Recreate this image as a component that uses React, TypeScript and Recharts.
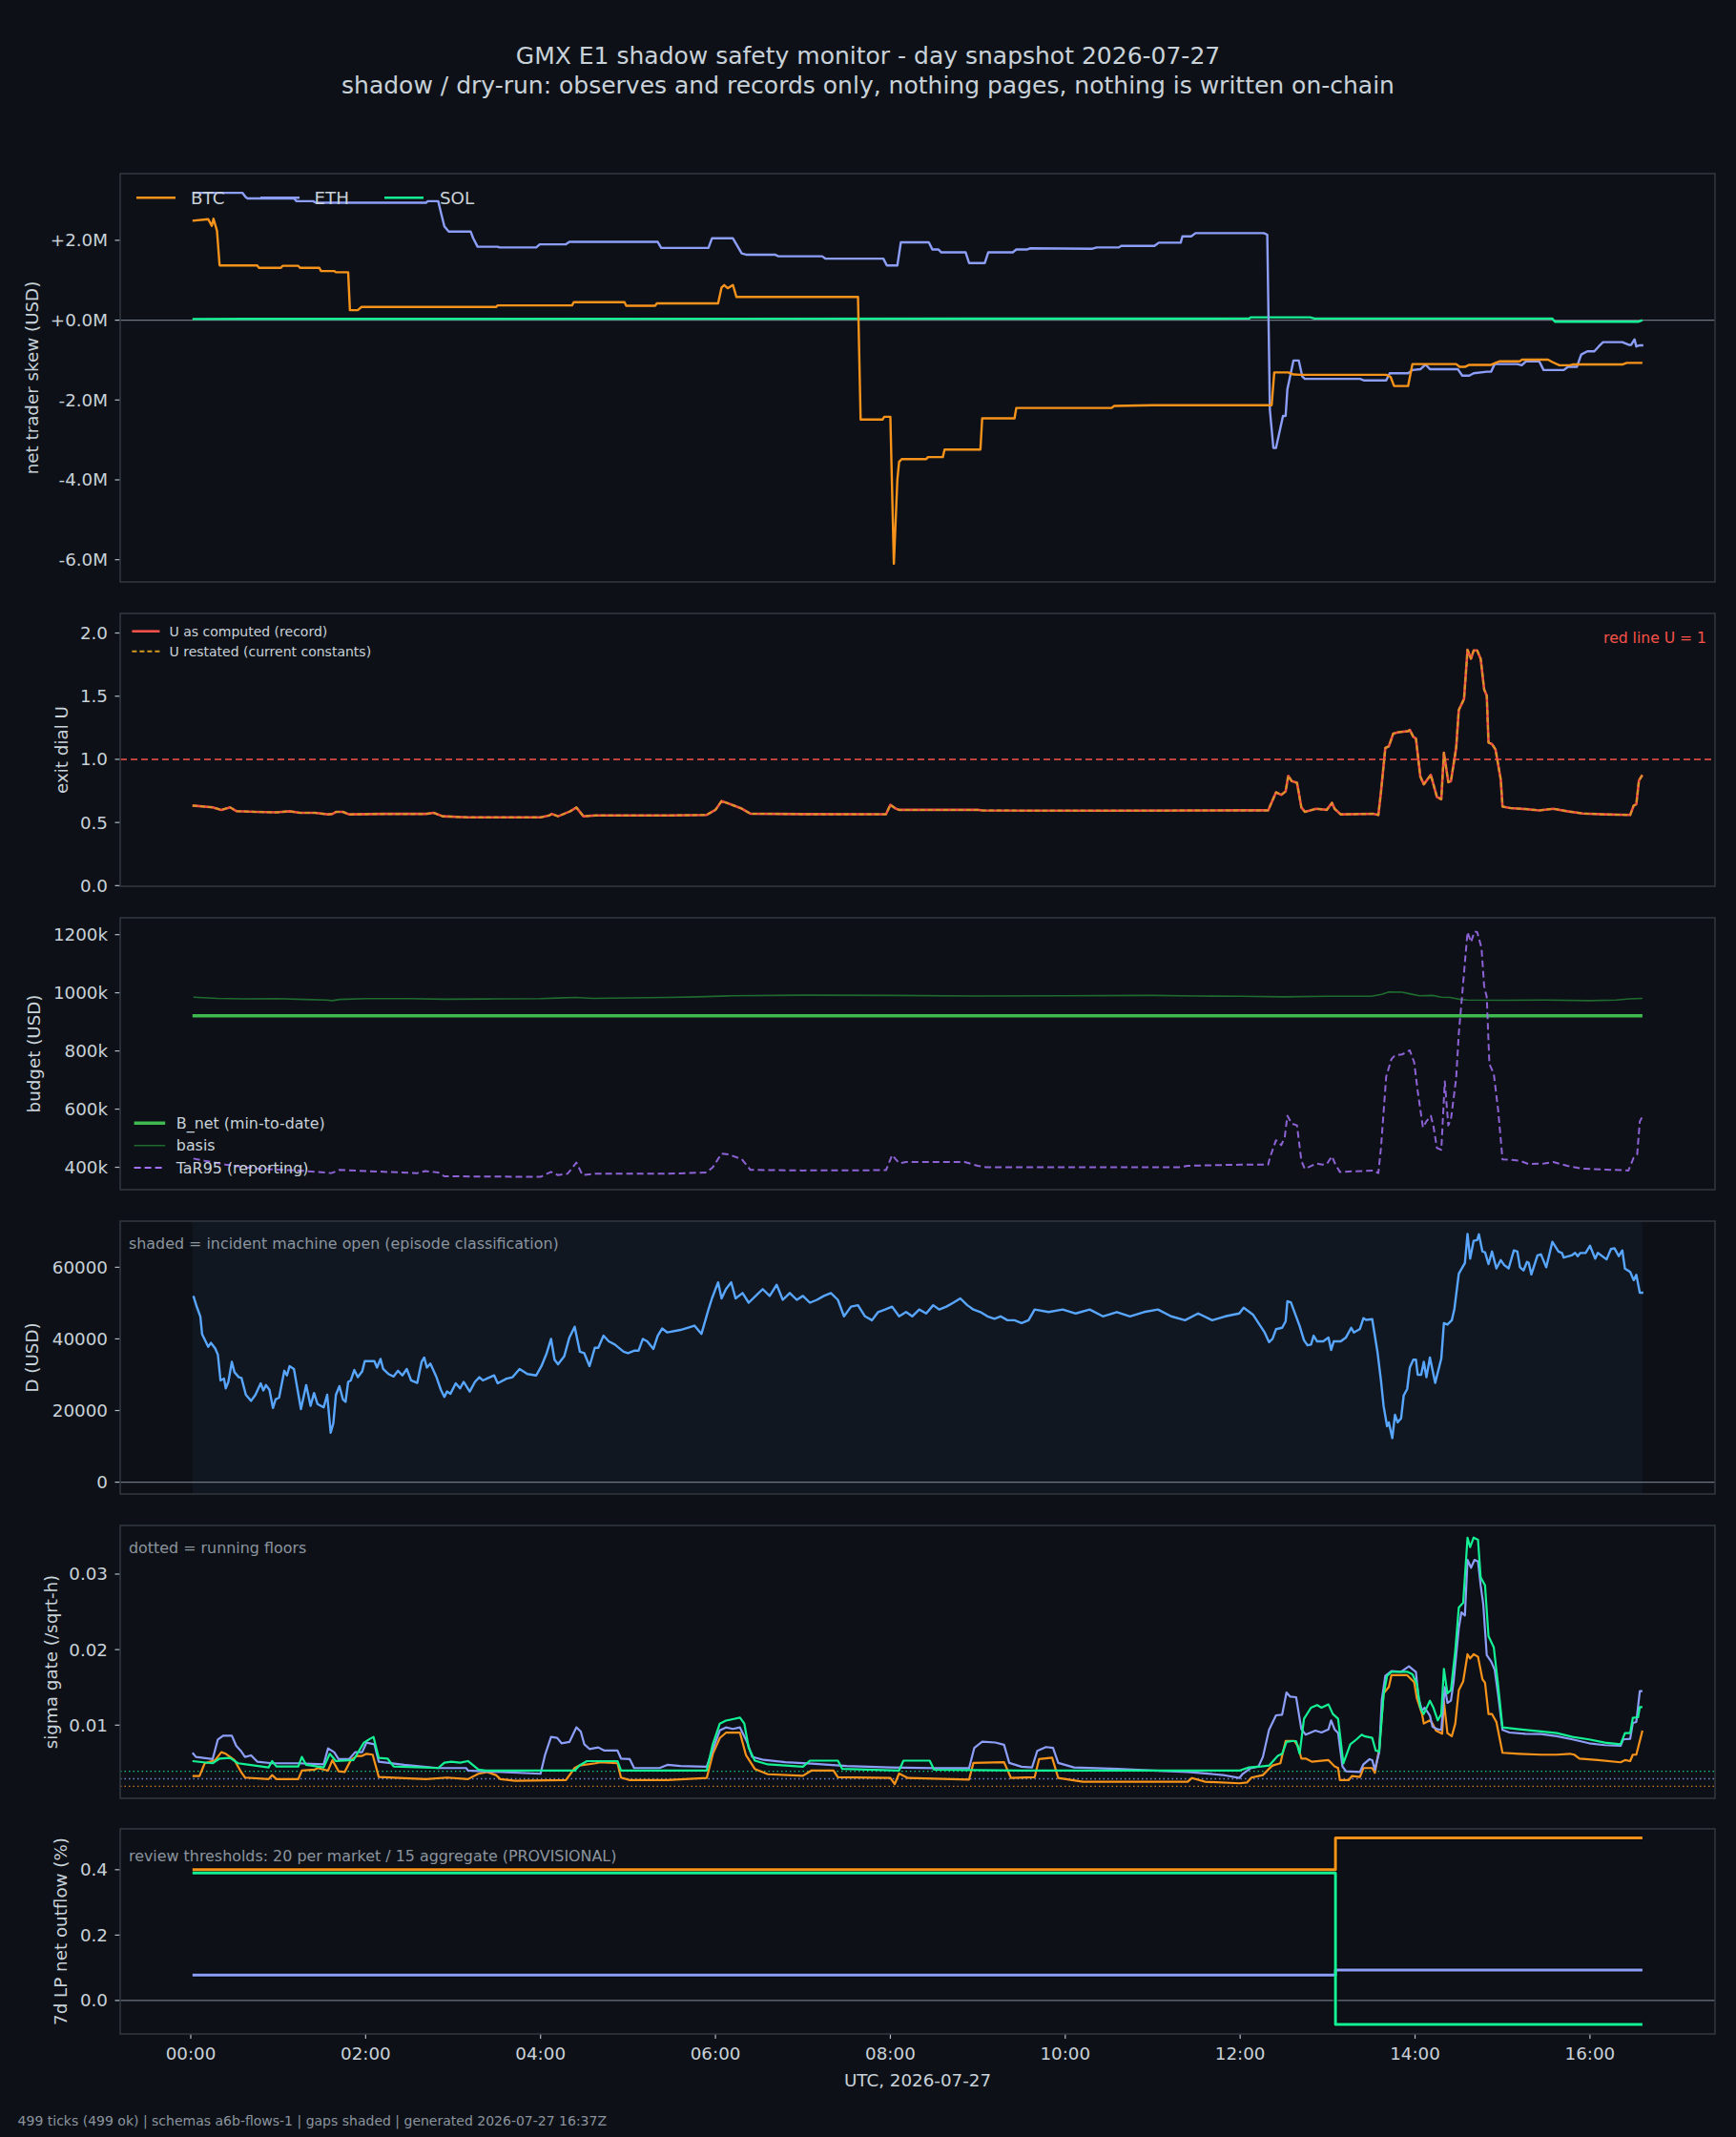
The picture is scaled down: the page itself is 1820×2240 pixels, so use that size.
import React from 'react';
import { ComposedChart, Line, XAxis, YAxis, ReferenceLine, ReferenceArea } from 'recharts';

type Pt = [number, number];

// ---------- time axis (hours, UTC) ----------
const hourTicks = [0, 2, 4, 6, 8, 10, 12, 14, 16];

// ---------- panel 1: net trader skew (USD millions) ----------
const skewTicks = [-6, -4, -2, 0, 2];
const skewBtc: Pt[] = [
  [0.02, 2.49], [0.2, 2.53], [0.24, 2.36], [0.26, 2.54], [0.3, 2.24], [0.33, 1.37], [0.76, 1.37], [0.78, 1.31],
  [1.03, 1.31], [1.05, 1.36], [1.23, 1.36], [1.25, 1.31], [1.47, 1.31], [1.49, 1.23], [1.64, 1.23], [1.66, 1.2],
  [1.8, 1.2], [1.82, 0.25], [1.91, 0.25], [1.95, 0.33], [3.49, 0.33], [3.51, 0.37], [4.36, 0.37], [4.38, 0.45],
  [4.96, 0.45], [4.98, 0.36], [5.31, 0.36], [5.33, 0.42], [6.03, 0.42], [6.07, 0.82], [6.1, 0.88], [6.14, 0.8],
  [6.2, 0.88], [6.24, 0.58], [7.63, 0.58], [7.66, -2.49], [7.91, -2.49], [7.93, -2.42], [8.0, -2.42], [8.04, -6.1],
  [8.08, -4.0], [8.1, -3.55], [8.13, -3.48], [8.41, -3.48], [8.43, -3.43], [8.6, -3.43], [8.62, -3.24], [9.03, -3.24],
  [9.05, -2.46], [9.42, -2.46], [9.44, -2.2], [10.53, -2.2], [10.56, -2.15], [11.0, -2.13], [12.36, -2.13],
  [12.39, -1.31], [12.55, -1.31], [12.61, -1.36], [12.7, -1.37], [13.67, -1.37], [13.72, -1.42], [13.76, -1.65],
  [13.92, -1.65], [13.97, -1.1], [14.47, -1.1], [14.51, -1.17], [14.57, -1.17], [14.62, -1.12], [14.87, -1.12],
  [14.92, -1.07], [14.97, -1.03], [15.2, -1.03], [15.22, -0.99], [15.52, -0.99], [15.57, -1.05], [15.65, -1.13],
  [15.77, -1.13], [15.8, -1.11], [16.37, -1.11], [16.42, -1.07], [16.6, -1.07],
];
const skewEth: Pt[] = [
  [0.02, 3.19], [0.59, 3.19], [0.63, 3.08], [0.65, 3.05], [1.18, 3.05], [1.21, 2.98], [1.4, 2.98], [1.43, 2.94],
  [2.69, 2.94], [2.71, 2.98], [2.83, 2.98], [2.86, 2.7], [2.9, 2.35], [2.95, 2.22], [3.2, 2.22], [3.23, 2.05],
  [3.28, 1.84], [3.51, 1.84], [3.53, 1.82], [3.95, 1.82], [3.99, 1.9], [4.29, 1.9], [4.33, 1.96], [5.34, 1.96],
  [5.38, 1.81], [5.92, 1.81], [5.96, 2.05], [6.2, 2.05], [6.3, 1.67], [6.35, 1.64], [6.68, 1.64], [6.72, 1.6],
  [7.22, 1.6], [7.26, 1.54], [7.92, 1.54], [7.96, 1.37], [8.08, 1.37], [8.12, 1.95], [8.44, 1.95], [8.48, 1.77],
  [8.55, 1.77], [8.58, 1.7], [8.86, 1.7], [8.9, 1.43], [9.08, 1.43], [9.12, 1.7], [9.4, 1.7], [9.44, 1.77],
  [9.56, 1.77], [9.6, 1.8], [10.31, 1.79], [10.36, 1.82], [10.61, 1.82], [10.64, 1.86], [11.02, 1.86],
  [11.07, 1.94], [11.32, 1.94], [11.34, 2.1], [11.44, 2.1], [11.49, 2.18], [12.27, 2.18], [12.31, 2.14],
  [12.34, -2.25], [12.38, -3.2], [12.41, -3.2], [12.49, -2.4], [12.52, -2.4], [12.54, -1.73], [12.61, -1.01],
  [12.67, -1.01], [12.71, -1.41], [12.74, -1.47], [13.37, -1.47], [13.42, -1.51], [13.67, -1.51], [13.71, -1.33],
  [13.92, -1.33], [13.97, -1.25], [14.06, -1.23], [14.12, -1.11], [14.17, -1.23], [14.49, -1.23], [14.54, -1.39],
  [14.62, -1.39], [14.67, -1.33], [14.82, -1.29], [14.87, -1.29], [14.91, -1.1], [15.17, -1.1], [15.22, -1.13],
  [15.27, -1.03], [15.42, -1.03], [15.47, -1.25], [15.7, -1.25], [15.75, -1.17], [15.85, -1.17], [15.9, -0.86],
  [15.97, -0.78], [16.05, -0.78], [16.1, -0.66], [16.15, -0.55], [16.37, -0.55], [16.45, -0.62], [16.47, -0.62],
  [16.51, -0.48], [16.53, -0.66], [16.57, -0.63], [16.61, -0.63],
];
const skewSol: Pt[] = [
  [0.02, 0.03], [12.1, 0.04], [12.12, 0.07], [12.8, 0.07], [12.85, 0.04], [15.57, 0.04], [15.6, -0.04],
  [16.55, -0.04], [16.6, 0.0],
];

// ---------- panel 2: exit dial U ----------
const dialTicks = [0, 0.5, 1, 1.5, 2];
const dialRedLine = 1;
const dialU: Pt[] = [
  [0.02, 0.634], [0.25, 0.62], [0.35, 0.6], [0.45, 0.62], [0.52, 0.59], [0.74, 0.584], [0.98, 0.58], [1.13, 0.589],
  [1.25, 0.576], [1.42, 0.576], [1.57, 0.564], [1.62, 0.568], [1.66, 0.584], [1.74, 0.584], [1.81, 0.564],
  [2.2, 0.568], [2.69, 0.568], [2.78, 0.576], [2.88, 0.549], [3.17, 0.541], [4.0, 0.541], [4.1, 0.556],
  [4.13, 0.568], [4.2, 0.549], [4.34, 0.589], [4.41, 0.619], [4.49, 0.549], [4.63, 0.556], [5.45, 0.556],
  [5.9, 0.56], [6.0, 0.6], [6.07, 0.67], [6.15, 0.65], [6.3, 0.61], [6.4, 0.57], [7.0, 0.566], [7.95, 0.565],
  [8.0, 0.64], [8.06, 0.61], [8.1, 0.6], [9.0, 0.6], [9.05, 0.595], [10.5, 0.593], [12.0, 0.596], [12.32, 0.596],
  [12.41, 0.739], [12.47, 0.719], [12.52, 0.747], [12.55, 0.869], [12.59, 0.827], [12.65, 0.814], [12.7, 0.619],
  [12.74, 0.584], [12.87, 0.609], [12.99, 0.6], [13.05, 0.656], [13.08, 0.609], [13.15, 0.564], [13.52, 0.569],
  [13.58, 0.559], [13.61, 0.739], [13.66, 1.09], [13.7, 1.103], [13.75, 1.203], [13.81, 1.215], [13.92, 1.223],
  [13.94, 1.233], [13.98, 1.178], [14.01, 1.165], [14.06, 0.864], [14.1, 0.802], [14.18, 0.877], [14.21, 0.802],
  [14.25, 0.702], [14.3, 0.684], [14.33, 1.052], [14.38, 0.819], [14.41, 0.827], [14.47, 1.09], [14.5, 1.39],
  [14.56, 1.478], [14.6, 1.867], [14.64, 1.797], [14.67, 1.862], [14.71, 1.862], [14.75, 1.797], [14.79, 1.554],
  [14.82, 1.504], [14.84, 1.133], [14.88, 1.12], [14.92, 1.078], [14.98, 0.84], [15.0, 0.626], [15.09, 0.614],
  [15.27, 0.606], [15.42, 0.596], [15.58, 0.609], [15.74, 0.589], [15.92, 0.571], [16.17, 0.564], [16.46, 0.559],
  [16.5, 0.634], [16.53, 0.644], [16.56, 0.832], [16.6, 0.877],
];

// ---------- panel 3: budget (thousand USD) ----------
const budgetTicks = [400, 600, 800, 1000, 1200];
const budgetNet: Pt[] = [[0.02, 921], [16.6, 921]];
const budgetBasis: Pt[] = [
  [0.03, 985], [0.3, 981], [0.6, 979], [1.0, 980], [1.3, 977], [1.55, 975], [1.62, 973], [1.7, 977], [2.0, 980],
  [2.5, 980], [2.9, 978], [3.5, 979], [4.0, 980], [4.2, 982], [4.4, 984], [4.6, 981], [5.45, 984], [5.8, 986],
  [6.2, 990], [7.0, 992], [8.0, 991], [9.0, 989], [10.0, 990], [11.0, 991], [11.5, 989], [12.0, 988], [12.5, 986],
  [13.0, 988], [13.5, 988], [13.62, 995], [13.7, 1003], [13.85, 1002], [13.95, 996], [14.05, 990], [14.2, 991],
  [14.3, 985], [14.4, 984], [14.52, 977], [14.6, 975], [15.0, 974], [15.5, 975], [16.0, 973], [16.3, 975],
  [16.45, 979], [16.6, 981],
];
const budgetTar95: Pt[] = [
  [0.03, 430], [0.16, 422], [0.4, 409], [0.74, 395], [1.23, 389], [1.61, 380], [1.7, 391], [2.0, 387], [2.59, 380],
  [2.68, 387], [2.83, 382], [2.9, 369], [4.0, 367], [4.12, 384], [4.2, 373], [4.31, 378], [4.41, 416], [4.48, 373],
  [4.63, 378], [5.45, 378], [5.9, 382], [5.97, 400], [6.07, 447], [6.15, 444], [6.3, 428], [6.4, 391], [7.0, 389],
  [7.95, 390], [8.02, 442], [8.1, 414], [8.18, 418], [8.85, 418], [9.0, 405], [9.1, 400], [11.3, 400], [11.4, 405],
  [12.0, 409], [12.32, 409], [12.34, 433], [12.41, 493], [12.47, 476], [12.51, 504], [12.54, 577], [12.59, 550],
  [12.65, 544], [12.7, 422], [12.74, 394], [12.87, 413], [12.94, 409], [12.99, 411], [13.05, 438], [13.08, 416],
  [13.14, 384], [13.52, 389], [13.58, 380], [13.61, 466], [13.67, 712], [13.73, 772], [13.77, 785], [13.85, 788],
  [13.94, 802], [13.99, 761], [14.03, 662], [14.09, 537], [14.13, 558], [14.18, 577], [14.21, 542], [14.25, 466],
  [14.3, 460], [14.34, 695], [14.38, 544], [14.41, 564], [14.47, 706], [14.5, 859], [14.53, 963], [14.6, 1209],
  [14.64, 1174], [14.68, 1211], [14.71, 1209], [14.76, 1154], [14.79, 1023], [14.82, 985], [14.85, 755],
  [14.9, 722], [14.95, 597], [15.0, 427], [15.09, 426], [15.2, 422], [15.3, 411], [15.48, 413], [15.58, 418],
  [15.74, 405], [15.92, 395], [16.17, 392], [16.44, 389], [16.5, 433], [16.54, 444], [16.57, 558], [16.61, 580],
];

// ---------- panel 4: D (USD) ----------
const dTicks = [0, 20000, 40000, 60000];
const incidentStart = 0.02;
const incidentEnd = 16.6;
const dUsd: Pt[] = [
  [0.03, 52000], [0.07, 48900], [0.11, 46200], [0.13, 41300], [0.2, 37800], [0.23, 38900], [0.28, 37300],
  [0.31, 35600], [0.34, 28400], [0.38, 28900], [0.4, 26200], [0.43, 28000], [0.47, 33600], [0.5, 30700],
  [0.55, 29300], [0.58, 29100], [0.63, 24400], [0.69, 22700], [0.74, 24400], [0.8, 27600], [0.83, 25600],
  [0.86, 27100], [0.9, 25800], [0.94, 20700], [0.97, 23100], [1.01, 23600], [1.07, 31100], [1.1, 29800],
  [1.13, 32400], [1.18, 31600], [1.26, 20400], [1.32, 27100], [1.37, 21300], [1.41, 24900], [1.45, 21800],
  [1.52, 20900], [1.56, 24400], [1.6, 13800], [1.63, 16400], [1.66, 24400], [1.7, 26800], [1.74, 23100],
  [1.77, 22400], [1.8, 28000], [1.83, 28400], [1.87, 31300], [1.91, 29300], [1.96, 30900], [1.99, 33800],
  [2.1, 33800], [2.13, 32000], [2.17, 34400], [2.2, 31600], [2.26, 30200], [2.32, 29500], [2.37, 31100],
  [2.42, 29800], [2.47, 31600], [2.52, 28400], [2.59, 27700], [2.64, 33600], [2.67, 34800], [2.7, 32000],
  [2.74, 33100], [2.81, 29300], [2.86, 25800], [2.9, 23800], [2.93, 25300], [2.97, 24700], [3.03, 27600],
  [3.08, 26200], [3.12, 28000], [3.19, 25300], [3.25, 28000], [3.3, 29300], [3.34, 28400], [3.47, 29800],
  [3.51, 27600], [3.61, 28900], [3.68, 29300], [3.76, 31600], [3.85, 30200], [3.95, 29800], [4.01, 32400],
  [4.07, 36000], [4.12, 40000], [4.16, 34200], [4.2, 32900], [4.27, 35100], [4.33, 40400], [4.39, 43400],
  [4.45, 36400], [4.5, 36000], [4.56, 32400], [4.62, 37500], [4.66, 37500], [4.72, 40900], [4.78, 39300],
  [4.85, 38400], [4.95, 36400], [5.0, 36000], [5.07, 36700], [5.12, 36700], [5.17, 40000], [5.22, 39300],
  [5.29, 37200], [5.34, 40900], [5.39, 42900], [5.45, 41800], [5.6, 42500], [5.76, 43700], [5.84, 41400],
  [5.92, 48200], [5.96, 51300], [6.03, 55800], [6.07, 51300], [6.12, 53900], [6.18, 55800], [6.23, 51300],
  [6.31, 52800], [6.38, 50100], [6.46, 52000], [6.54, 53900], [6.62, 52000], [6.7, 55100], [6.77, 50900],
  [6.85, 52800], [6.93, 50900], [7.0, 52000], [7.08, 50100], [7.16, 50900], [7.24, 52000], [7.32, 52800],
  [7.4, 50900], [7.47, 46300], [7.55, 49000], [7.63, 49400], [7.71, 46300], [7.79, 45200], [7.86, 47500],
  [7.94, 48200], [8.02, 49000], [8.1, 46300], [8.18, 47500], [8.25, 46300], [8.33, 48200], [8.41, 47100],
  [8.49, 49400], [8.56, 48200], [8.64, 49000], [8.72, 50100], [8.8, 51300], [8.88, 49400], [8.95, 48200],
  [9.03, 47500], [9.11, 46300], [9.19, 45600], [9.26, 46300], [9.34, 45200], [9.42, 45200], [9.5, 44400],
  [9.58, 45200], [9.65, 48200], [9.81, 47500], [9.97, 48200], [10.12, 47100], [10.28, 48200], [10.43, 46300],
  [10.59, 47500], [10.74, 46300], [10.9, 47500], [11.06, 48200], [11.21, 46300], [11.37, 45200], [11.52, 47100],
  [11.68, 45200], [11.83, 46300], [11.99, 47100], [12.04, 48700], [12.15, 46700], [12.21, 44400], [12.28, 41800],
  [12.33, 39100], [12.37, 40000], [12.41, 42700], [12.48, 43100], [12.52, 44900], [12.54, 50500], [12.58, 50200],
  [12.68, 43600], [12.73, 39600], [12.77, 38200], [12.81, 38400], [12.84, 40900], [12.88, 39300], [12.95, 39300],
  [13.01, 40400], [13.04, 36900], [13.07, 39300], [13.15, 39300], [13.21, 40400], [13.27, 43100], [13.3, 41800],
  [13.37, 42800], [13.41, 45800], [13.44, 45300], [13.51, 45500], [13.57, 36400], [13.61, 28400], [13.64, 21300],
  [13.68, 15600], [13.7, 16700], [13.74, 12300], [13.77, 18800], [13.8, 16700], [13.84, 17800], [13.87, 24200],
  [13.91, 26000], [13.94, 32000], [13.98, 34200], [14.01, 34200], [14.03, 30000], [14.07, 30000], [14.1, 33600],
  [14.13, 29300], [14.17, 34800], [14.23, 27700], [14.3, 34500], [14.33, 44400], [14.37, 44000], [14.42, 45200],
  [14.45, 48400], [14.5, 58200], [14.57, 61200], [14.6, 69300], [14.63, 62400], [14.67, 67400], [14.71, 67600],
  [14.73, 69200], [14.77, 64400], [14.8, 64200], [14.84, 60900], [14.88, 64400], [14.93, 59700], [14.98, 62000],
  [15.02, 60600], [15.07, 59700], [15.13, 64700], [15.17, 64400], [15.2, 60000], [15.24, 59100], [15.28, 61500],
  [15.3, 61200], [15.33, 58000], [15.4, 63300], [15.44, 63600], [15.5, 60000], [15.57, 67100], [15.64, 64400],
  [15.68, 64000], [15.7, 62700], [15.79, 63300], [15.83, 64000], [15.86, 63100], [15.89, 64000], [15.95, 64000],
  [16.0, 66000], [16.06, 62400], [16.09, 64000], [16.19, 62200], [16.24, 65100], [16.28, 65300], [16.33, 63100],
  [16.37, 64700], [16.4, 59600], [16.46, 58700], [16.5, 56400], [16.53, 57900], [16.57, 52900], [16.61, 52900],
];

// ---------- panel 5: sigma gate (/sqrt-h) ----------
const sigmaTicks = [0.01, 0.02, 0.03];
const floorBtc = 0.0019;
const floorEth = 0.0029;
const floorSol = 0.0039;
const sigmaEth: Pt[] = [
  [0.02, 0.00634], [0.06, 0.00579], [0.25, 0.0055], [0.31, 0.0081], [0.37, 0.0086], [0.47, 0.0086], [0.52, 0.00726],
  [0.57, 0.00663], [0.62, 0.00579], [0.69, 0.006], [0.76, 0.00516], [0.93, 0.00495], [1.23, 0.00495],
  [1.52, 0.00482], [1.57, 0.00693], [1.64, 0.00642], [1.69, 0.0055], [1.81, 0.0055], [1.88, 0.00642],
  [1.96, 0.00642], [2.01, 0.00769], [2.1, 0.00747], [2.15, 0.00516], [2.44, 0.00474], [2.83, 0.00432],
  [3.15, 0.00432], [3.17, 0.00398], [4.0, 0.00356], [4.05, 0.006], [4.12, 0.00844], [4.19, 0.00832], [4.24, 0.0076],
  [4.33, 0.00777], [4.41, 0.00971], [4.46, 0.00916], [4.5, 0.00747], [4.56, 0.00684], [4.66, 0.00705],
  [4.73, 0.00663], [4.88, 0.00663], [4.92, 0.00558], [5.02, 0.0055], [5.07, 0.00432], [5.36, 0.00432],
  [5.45, 0.00474], [5.6, 0.0046], [5.9, 0.0045], [5.97, 0.0068], [6.05, 0.0093], [6.12, 0.0097], [6.2, 0.0095],
  [6.28, 0.0097], [6.36, 0.0078], [6.42, 0.0058], [6.55, 0.0054], [6.8, 0.0051], [7.1, 0.0049], [7.5, 0.0046],
  [8.0, 0.0044], [8.5, 0.0043], [8.9, 0.0043], [8.96, 0.007], [9.05, 0.0078], [9.2, 0.0077], [9.3, 0.0074],
  [9.36, 0.005], [9.5, 0.0045], [9.62, 0.0044], [9.68, 0.0066], [9.78, 0.0071], [9.86, 0.007], [9.92, 0.005],
  [10.1, 0.0044], [10.6, 0.0042], [11.0, 0.004], [11.4, 0.0038], [11.8, 0.0034], [11.99, 0.003], [12.03, 0.00356],
  [12.12, 0.0043], [12.21, 0.00453], [12.26, 0.00579], [12.33, 0.00937], [12.41, 0.0113], [12.48, 0.01139],
  [12.53, 0.01433], [12.57, 0.01379], [12.64, 0.0137], [12.7, 0.00945], [12.75, 0.00874], [12.86, 0.00928],
  [12.93, 0.00903], [13.01, 0.00945], [13.04, 0.01063], [13.08, 0.00945], [13.12, 0.00895], [13.17, 0.00453],
  [13.21, 0.0039], [13.37, 0.00381], [13.41, 0.00482], [13.48, 0.0055], [13.51, 0.00537], [13.54, 0.00411],
  [13.59, 0.00642], [13.62, 0.01337], [13.66, 0.01652], [13.73, 0.01715], [13.84, 0.01707], [13.93, 0.01779],
  [14.01, 0.01703], [14.04, 0.01358], [14.08, 0.01189], [14.11, 0.01231], [14.17, 0.01126], [14.2, 0.00979],
  [14.26, 0.00945], [14.3, 0.00937], [14.34, 0.01505], [14.37, 0.01295], [14.41, 0.01324], [14.44, 0.01568],
  [14.5, 0.02284], [14.53, 0.02494], [14.57, 0.02452], [14.6, 0.03189], [14.64, 0.03083], [14.68, 0.03189],
  [14.72, 0.03167], [14.75, 0.02852], [14.78, 0.02599], [14.82, 0.01926], [14.87, 0.01842], [14.91, 0.01737],
  [14.95, 0.014], [15.0, 0.00937], [15.08, 0.00903], [15.26, 0.00886], [15.44, 0.00882], [15.62, 0.00853],
  [15.8, 0.00811], [15.99, 0.0076], [16.17, 0.00735], [16.35, 0.00726], [16.38, 0.00811], [16.46, 0.00819],
  [16.49, 0.01029], [16.53, 0.01042], [16.57, 0.0145], [16.6, 0.0145],
];
const sigmaSol: Pt[] = [
  [0.02, 0.00524], [0.25, 0.00495], [0.33, 0.00558], [0.45, 0.00566], [0.54, 0.00495], [0.89, 0.0044],
  [0.93, 0.00524], [0.98, 0.00453], [1.23, 0.00453], [1.27, 0.00579], [1.32, 0.00474], [1.52, 0.0044],
  [1.59, 0.00621], [1.66, 0.00524], [1.86, 0.00537], [1.98, 0.00769], [2.05, 0.00819], [2.09, 0.00844],
  [2.15, 0.00566], [2.25, 0.00558], [2.32, 0.00453], [2.83, 0.00432], [2.9, 0.00503], [2.98, 0.00516],
  [3.08, 0.00503], [3.17, 0.00524], [3.29, 0.00411], [3.37, 0.00398], [4.39, 0.00398], [4.45, 0.0047],
  [4.53, 0.00524], [4.88, 0.00524], [4.92, 0.00398], [5.9, 0.004], [5.97, 0.0075], [6.05, 0.0102], [6.12, 0.0106],
  [6.2, 0.0108], [6.28, 0.011], [6.33, 0.0102], [6.38, 0.007], [6.45, 0.0053], [6.6, 0.0048], [7.0, 0.0045],
  [7.08, 0.0053], [7.4, 0.0053], [7.45, 0.0042], [8.1, 0.004], [8.15, 0.0053], [8.45, 0.0053], [8.5, 0.0041],
  [9.5, 0.004], [11.99, 0.00398], [12.1, 0.0044], [12.24, 0.00453], [12.33, 0.00465], [12.43, 0.00592],
  [12.48, 0.00621], [12.53, 0.00777], [12.59, 0.00789], [12.64, 0.00789], [12.68, 0.00621], [12.73, 0.01084],
  [12.81, 0.01231], [12.88, 0.01265], [12.93, 0.01231], [13.01, 0.01274], [13.06, 0.01147], [13.12, 0.01084],
  [13.18, 0.00495], [13.26, 0.00747], [13.33, 0.00811], [13.39, 0.00874], [13.42, 0.00853], [13.51, 0.00832],
  [13.55, 0.00663], [13.59, 0.00651], [13.64, 0.014], [13.68, 0.01652], [13.73, 0.01707], [13.91, 0.01707],
  [13.97, 0.01673], [14.02, 0.01547], [14.06, 0.01231], [14.1, 0.01147], [14.17, 0.01324], [14.21, 0.01231],
  [14.26, 0.01063], [14.3, 0.01147], [14.33, 0.01745], [14.37, 0.01421], [14.41, 0.01463], [14.46, 0.01989],
  [14.5, 0.02557], [14.55, 0.0262], [14.6, 0.03483], [14.63, 0.03357], [14.67, 0.03483], [14.72, 0.03454],
  [14.75, 0.02957], [14.8, 0.02852], [14.84, 0.02178], [14.9, 0.02031], [14.95, 0.01526], [15.0, 0.00971],
  [15.19, 0.00945], [15.44, 0.00916], [15.62, 0.00895], [15.8, 0.00844], [15.99, 0.00811], [16.17, 0.00769],
  [16.35, 0.00747], [16.4, 0.00895], [16.46, 0.00895], [16.49, 0.01097], [16.55, 0.01105], [16.57, 0.0124],
  [16.6, 0.0124],
];
const sigmaBtc: Pt[] = [
  [0.02, 0.00327], [0.1, 0.00327], [0.16, 0.00495], [0.28, 0.00537], [0.35, 0.00642], [0.4, 0.00621],
  [0.5, 0.00537], [0.57, 0.0039], [0.62, 0.00306], [0.89, 0.00285], [0.93, 0.00339], [0.98, 0.00285],
  [1.23, 0.00285], [1.27, 0.00398], [1.42, 0.00411], [1.45, 0.00432], [1.57, 0.00398], [1.62, 0.00537],
  [1.69, 0.0039], [1.76, 0.0038], [1.83, 0.00537], [1.9, 0.00592], [1.96, 0.00592], [2.01, 0.00621],
  [2.08, 0.00609], [2.15, 0.00314], [2.44, 0.00297], [2.69, 0.00285], [2.93, 0.00306], [3.17, 0.00285],
  [3.29, 0.00356], [3.39, 0.0038], [3.49, 0.00339], [3.54, 0.00285], [3.71, 0.00263], [4.29, 0.00272],
  [4.39, 0.00432], [4.44, 0.00465], [4.63, 0.00495], [4.68, 0.00508], [4.88, 0.00495], [4.92, 0.00306],
  [5.02, 0.00272], [5.45, 0.00272], [5.9, 0.003], [5.97, 0.0062], [6.05, 0.0083], [6.12, 0.009], [6.28, 0.009],
  [6.35, 0.006], [6.45, 0.0042], [6.6, 0.0035], [7.0, 0.0033], [7.1, 0.004], [7.35, 0.004], [7.4, 0.0031],
  [8.0, 0.003], [8.05, 0.0022], [8.1, 0.0036], [8.2, 0.003], [8.9, 0.0028], [8.95, 0.005], [9.3, 0.0051],
  [9.38, 0.003], [9.65, 0.0031], [9.7, 0.0055], [9.85, 0.0057], [9.92, 0.003], [10.2, 0.0025], [11.4, 0.0025],
  [11.45, 0.003], [11.6, 0.0025], [11.99, 0.0023], [12.08, 0.00242], [12.13, 0.00306], [12.26, 0.00339],
  [12.32, 0.00411], [12.37, 0.00465], [12.46, 0.00495], [12.52, 0.0079], [12.62, 0.0079], [12.66, 0.00726],
  [12.7, 0.00558], [12.75, 0.00558], [12.82, 0.00516], [13.01, 0.00537], [13.08, 0.00453], [13.12, 0.00432],
  [13.14, 0.00272], [13.24, 0.00272], [13.28, 0.00327], [13.37, 0.00314], [13.41, 0.00432], [13.51, 0.00432],
  [13.54, 0.00369], [13.59, 0.00684], [13.64, 0.01421], [13.7, 0.01505], [13.73, 0.01661], [13.91, 0.01661],
  [13.99, 0.01568], [14.02, 0.01358], [14.08, 0.01147], [14.1, 0.01021], [14.17, 0.01063], [14.2, 0.01021],
  [14.24, 0.00928], [14.31, 0.00886], [14.33, 0.01316], [14.37, 0.00895], [14.42, 0.00853], [14.46, 0.01021],
  [14.5, 0.01463], [14.55, 0.01577], [14.6, 0.01939], [14.63, 0.01884], [14.67, 0.01939], [14.72, 0.01905],
  [14.77, 0.0161], [14.8, 0.0156], [14.84, 0.01147], [14.88, 0.01147], [14.93, 0.01042], [15.0, 0.00634],
  [15.19, 0.00621], [15.44, 0.00609], [15.62, 0.00609], [15.77, 0.00621], [15.82, 0.00609], [15.88, 0.00558],
  [16.09, 0.00537], [16.35, 0.00508], [16.4, 0.00537], [16.46, 0.00524], [16.49, 0.00609], [16.53, 0.00609],
  [16.6, 0.00928],
];

// ---------- panel 6: 7d LP net outflow (%) ----------
const outflowTicks = [0, 0.2, 0.4];
const outflowBtc: Pt[] = [[0.02, 0.4], [13.09, 0.497], [16.6, 0.497]];
const outflowEth: Pt[] = [[0.02, 0.078], [13.09, 0.093], [16.6, 0.093]];
const outflowSol: Pt[] = [[0.02, 0.39], [13.09, -0.073], [16.6, -0.073]];

// ---------- styling ----------
const W = 1820;
const H = 2240;
const PLOT_L = 126;
const PLOT_R = 1798;
const YW = 60;
const X_DOMAIN: [number, number] = [-0.807, 17.43];
const BG = '#0d1117';
const FG = '#c9d1d9';
const MUTED = '#8b949e';
const SPINE = '#30363d';
const TICK = '#b1bac4';
const ZERO = '#6e7681';
const C_BTC = '#f7931a';
const C_ETH = '#8c9ef8';
const C_SOL = '#14f195';
const C_D = '#58a6ff';
const C_RED = '#f85149';
const C_GOLD = '#d29922';
const C_BNET = '#3fb950';
const C_BASIS = '#1f6b2f';
const C_TAR = '#a371f7';
const FONT = '"DejaVu Sans", "Liberation Sans", sans-serif';
const TICK_FS = 18.3;
const NOTE_FS = 15.9;
const SMALL_FS = 14;

type PanelDef = { top: number; height: number };
const P1: PanelDef = { top: 182, height: 428 };
const P2: PanelDef = { top: 643, height: 286 };
const P3: PanelDef = { top: 962, height: 285 };
const P4: PanelDef = { top: 1280, height: 286 };
const P5: PanelDef = { top: 1599, height: 286 };
const P6: PanelDef = { top: 1917, height: 215 };

const rows = (p: Pt[]) => p.map(([t, v]) => ({ t, v }));
const fmtHour = (h: number) => `${String(h).padStart(2, '0')}:00`;

function Panel(props: {
  def: PanelDef;
  domain: [number, number];
  ticks: number[];
  fmt: (v: number) => string;
  last?: boolean;
  children: React.ReactNode;
}) {
  const { def, domain, ticks, fmt, last, children } = props;
  const mt = 4;
  const xh = last ? 44 : 10;
  return (
    <div style={{ position: 'absolute', left: 0, top: def.top - mt }}>
      <ComposedChart
        width={W}
        height={mt + def.height + xh}
        margin={{ top: mt, right: W - PLOT_R, bottom: 0, left: PLOT_L - YW }}
      >
        <XAxis
          type="number"
          dataKey="t"
          domain={X_DOMAIN}
          ticks={hourTicks}
          allowDataOverflow
          interval={0}
          height={xh}
          axisLine={false}
          tickSize={5}
          tickLine={{ stroke: TICK, strokeWidth: 1.2 }}
          tick={last ? { fill: FG, fontSize: TICK_FS } : false}
          tickMargin={9}
          tickFormatter={fmtHour}
        />
        <YAxis
          type="number"
          domain={domain}
          ticks={ticks}
          allowDataOverflow
          interval={0}
          width={YW}
          axisLine={false}
          tickSize={5.5}
          tickMargin={7.5}
          tickLine={{ stroke: TICK, strokeWidth: 1.2 }}
          tick={{ fill: FG, fontSize: TICK_FS }}
          tickFormatter={fmt}
        />
        {children}
      </ComposedChart>
    </div>
  );
}

const lineProps = { type: 'linear' as const, dataKey: 'v', dot: false, activeDot: false, isAnimationActive: false, strokeLinejoin: 'round' as const };

function YLabel({ x, def, text }: { x: number; def: PanelDef; text: string }) {
  const y = def.top + def.height / 2;
  return (
    <text x={x} y={y} fill={FG} fontSize={TICK_FS} textAnchor="middle" dominantBaseline="central" transform={`rotate(-90 ${x} ${y})`}>
      {text}
    </text>
  );
}

function LegendRow(props: { x1: number; x2: number; y: number; tx: number; color: string; width: number; dash?: string; label: string; fs: number }) {
  const { x1, x2, y, tx, color, width, dash, label, fs } = props;
  return (
    <g>
      <line x1={x1} x2={x2} y1={y} y2={y} stroke={color} strokeWidth={width} strokeDasharray={dash} />
      <text x={tx} y={y} fill={FG} fontSize={fs} dominantBaseline="central">{label}</text>
    </g>
  );
}

export default function App() {
  const frames = [P1, P2, P3, P4, P5, P6];
  return (
    <div style={{ position: 'absolute', left: 0, top: 0, width: W, height: H, background: BG, fontFamily: FONT, overflow: 'hidden' }}>
      {/* net trader skew */}
      <Panel def={P1} domain={[-6.557, 3.67]} ticks={skewTicks} fmt={(v) => `${v < 0 ? '-' : '+'}${Math.abs(v).toFixed(1)}M`}>
        <ReferenceLine y={0} stroke={ZERO} strokeWidth={1.2} />
        <Line {...lineProps} data={rows(skewSol)} stroke={C_SOL} strokeWidth={2.4} />
        <Line {...lineProps} data={rows(skewEth)} stroke={C_ETH} strokeWidth={2.4} />
        <Line {...lineProps} data={rows(skewBtc)} stroke={C_BTC} strokeWidth={2.4} />
      </Panel>

      {/* exit dial */}
      <Panel def={P2} domain={[-0.005, 2.155]} ticks={dialTicks} fmt={(v) => v.toFixed(1)}>
        <ReferenceLine y={dialRedLine} stroke={C_RED} strokeWidth={1.6} strokeDasharray="7 4" />
        <Line {...lineProps} data={rows(dialU)} stroke={C_RED} strokeWidth={2.6} />
        <Line {...lineProps} data={rows(dialU)} stroke={C_GOLD} strokeWidth={2} strokeDasharray="5 3" />
      </Panel>

      {/* budget */}
      <Panel def={P3} domain={[323, 1258]} ticks={budgetTicks} fmt={(v) => `${v}k`}>
        <Line {...lineProps} data={rows(budgetBasis)} stroke={C_BASIS} strokeWidth={1.6} />
        <Line {...lineProps} data={rows(budgetNet)} stroke={C_BNET} strokeWidth={3.4} />
        <Line {...lineProps} data={rows(budgetTar95)} stroke={C_TAR} strokeOpacity={0.85} strokeWidth={2} strokeDasharray="7 4" />
      </Panel>

      {/* D */}
      <Panel def={P4} domain={[-3307, 72880]} ticks={dTicks} fmt={(v) => String(v)}>
        <ReferenceArea x1={incidentStart} x2={incidentEnd} fill={C_D} fillOpacity={0.045} stroke="none" />
        <ReferenceLine y={0} stroke={ZERO} strokeWidth={1.2} />
        <Line {...lineProps} data={rows(dUsd)} stroke={C_D} strokeWidth={2.4} />
      </Panel>

      {/* sigma gate */}
      <Panel def={P5} domain={[0.00031, 0.03644]} ticks={sigmaTicks} fmt={(v) => v.toFixed(2)}>
        <ReferenceLine y={floorSol} stroke={C_SOL} strokeOpacity={0.8} strokeWidth={1.3} strokeDasharray="1.5 3" />
        <ReferenceLine y={floorEth} stroke={C_ETH} strokeOpacity={0.8} strokeWidth={1.3} strokeDasharray="1.5 3" />
        <ReferenceLine y={floorBtc} stroke={C_BTC} strokeOpacity={0.8} strokeWidth={1.3} strokeDasharray="1.5 3" />
        <Line {...lineProps} data={rows(sigmaBtc)} stroke={C_BTC} strokeWidth={2.2} />
        <Line {...lineProps} data={rows(sigmaEth)} stroke={C_ETH} strokeWidth={2.2} />
        <Line {...lineProps} data={rows(sigmaSol)} stroke={C_SOL} strokeWidth={2.2} />
      </Panel>

      {/* LP outflow */}
      <Panel def={P6} domain={[-0.1024, 0.525]} ticks={outflowTicks} fmt={(v) => v.toFixed(1)} last>
        <ReferenceLine y={0} stroke={ZERO} strokeWidth={1.4} />
        <Line {...lineProps} type="stepAfter" data={rows(outflowBtc)} stroke="#000000" strokeOpacity={0.5} strokeWidth={5.5} />
        <Line {...lineProps} type="stepAfter" data={rows(outflowEth)} stroke="#000000" strokeOpacity={0.5} strokeWidth={5.5} />
        <Line {...lineProps} type="stepAfter" data={rows(outflowSol)} stroke="#000000" strokeOpacity={0.5} strokeWidth={5.5} />
        <Line {...lineProps} type="stepAfter" data={rows(outflowBtc)} stroke={C_BTC} strokeWidth={3} />
        <Line {...lineProps} type="stepAfter" data={rows(outflowEth)} stroke={C_ETH} strokeWidth={3} />
        <Line {...lineProps} type="stepAfter" data={rows(outflowSol)} stroke={C_SOL} strokeWidth={3} />
      </Panel>

      <svg width={W} height={H} style={{ position: 'absolute', left: 0, top: 0, pointerEvents: 'none' }} fontFamily={FONT}>
        {/* titles */}
        <text x={910} y={58} fill={FG} fontSize={25} textAnchor="middle" dominantBaseline="central">
          GMX E1 shadow safety monitor - day snapshot 2026-07-27
        </text>
        <text x={910} y={89} fill={FG} fontSize={25} textAnchor="middle" dominantBaseline="central">
          shadow / dry-run: observes and records only, nothing pages, nothing is written on-chain
        </text>

        {/* panel frames */}
        {frames.map((f, i) => (
          <rect key={i} x={PLOT_L} y={f.top} width={PLOT_R - PLOT_L} height={f.height} fill="none" stroke={SPINE} strokeWidth={1.6} />
        ))}

        {/* axis titles */}
        <YLabel x={33.5} def={P1} text="net trader skew (USD)" />
        <YLabel x={64.7} def={P2} text="exit dial U" />
        <YLabel x={35.7} def={P3} text="budget (USD)" />
        <YLabel x={33.5} def={P4} text="D (USD)" />
        <YLabel x={53.6} def={P5} text="sigma gate (/sqrt-h)" />
        <YLabel x={63.8} def={P6} text="7d LP net outflow (%)" />
        <text x={962} y={2180} fill={FG} fontSize={TICK_FS} textAnchor="middle" dominantBaseline="central">UTC, 2026-07-27</text>

        {/* panel 1 legend */}
        <LegendRow x1={143} x2={184} y={207.3} tx={200} color={C_BTC} width={2.6} label="BTC" fs={TICK_FS} />
        <LegendRow x1={273} x2={314} y={207.3} tx={329.5} color={C_ETH} width={2.6} label="ETH" fs={TICK_FS} />
        <LegendRow x1={403} x2={444} y={207.3} tx={461} color={C_SOL} width={2.6} label="SOL" fs={TICK_FS} />

        {/* panel 2 legend + note */}
        <LegendRow x1={138.4} x2={167.4} y={661.7} tx={177.5} color={C_RED} width={2.6} label="U as computed (record)" fs={SMALL_FS} />
        <LegendRow x1={138.4} x2={167.4} y={682.7} tx={177.5} color={C_GOLD} width={2} dash="5 3" label="U restated (current constants)" fs={SMALL_FS} />
        <text x={1789} y={669} fill={C_RED} fontSize={15.6} textAnchor="end" dominantBaseline="central">red line U = 1</text>

        {/* panel 3 legend */}
        <LegendRow x1={140.6} x2={173.2} y={1177.3} tx={184.8} color={C_BNET} width={3.4} label="B_net (min-to-date)" fs={NOTE_FS} />
        <LegendRow x1={140.6} x2={173.2} y={1200.7} tx={184.8} color={C_BASIS} width={1.6} label="basis" fs={NOTE_FS} />
        <LegendRow x1={140.6} x2={173.2} y={1224} tx={184.8} color={C_TAR} width={2} dash="7 4" label="TaR95 (reporting)" fs={NOTE_FS} />

        {/* panel notes */}
        <text x={135} y={1303.3} fill={MUTED} fontSize={NOTE_FS} dominantBaseline="central">shaded = incident machine open (episode classification)</text>
        <text x={135} y={1622.3} fill={MUTED} fontSize={NOTE_FS} dominantBaseline="central">dotted = running floors</text>
        <text x={135} y={1945} fill={MUTED} fontSize={NOTE_FS} dominantBaseline="central">review thresholds: 20 per market / 15 aggregate (PROVISIONAL)</text>

        {/* footer */}
        <text x={18.6} y={2223.3} fill={MUTED} fontSize={SMALL_FS} dominantBaseline="central">
          499 ticks (499 ok) | schemas a6b-flows-1 | gaps shaded | generated 2026-07-27 16:37Z
        </text>
      </svg>
    </div>
  );
}
